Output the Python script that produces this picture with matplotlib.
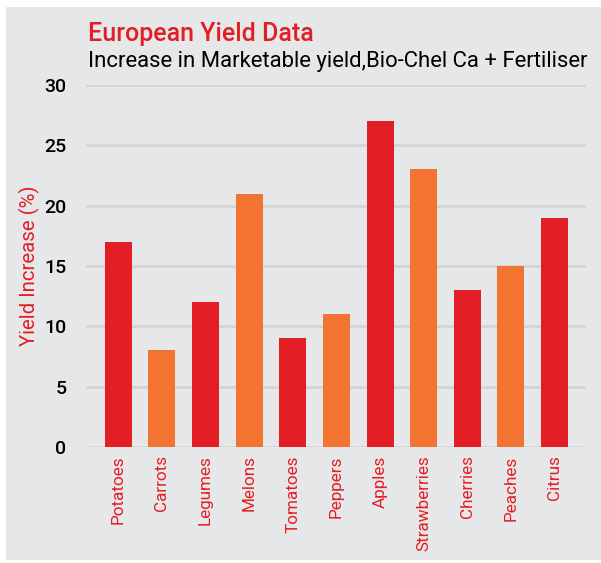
import matplotlib
matplotlib.use('Agg')
import matplotlib.pyplot as plt
from matplotlib.patches import Rectangle

crops = ['Potatoes', 'Carrots', 'Legumes', 'Melons', 'Tomatoes', 'Peppers',
         'Apples', 'Strawberries', 'Cherries', 'Peaches', 'Citrus']
yield_increase = [17, 8, 12, 21, 9, 11, 27, 23, 13, 15, 19]
yticks = [0, 5, 10, 15, 20, 25, 30]

red = '#e31e24'
orange = '#f37331'
panel = '#e6e7e8'
colors = [red if i % 2 == 0 else orange for i in range(len(crops))]

plt.rcParams['font.family'] = ['Roboto', 'DejaVu Sans']

fig = plt.figure(figsize=(6.01, 5.63), dpi=100)
fig.patch.set_facecolor('white')
# grey panel behind everything
fig.patches.append(Rectangle((6 / 601, 3 / 563), 595 / 601, 553 / 563,
                             transform=fig.transFigure, facecolor=panel,
                             edgecolor='none', zorder=-10))

ax = fig.add_axes([86 / 601, 1 - 447 / 563, 500 / 601, 362 / 563])
ax.set_facecolor('none')
x = range(len(crops))
ax.bar(x, yield_increase, width=0.62, color=colors, zorder=3)

ax.set_ylim(0, 30)
ax.set_xlim(-0.74, len(crops) - 1 + 0.72)
ax.set_yticks(yticks)
ax.set_yticklabels([str(t) for t in yticks], fontsize=14, color='black',
                   fontweight='medium')
ax.tick_params(axis='y', length=0, pad=14)
ax.set_xticks(list(x))
ax.set_xticklabels(crops, rotation=90, fontsize=12.3, color=red)
ax.tick_params(axis='x', length=0, pad=6)
for s in ax.spines.values():
    s.set_visible(False)
ax.yaxis.grid(True, color='#d3d4d6', linewidth=2, zorder=0)
ax.set_axisbelow(True)

ax.set_ylabel('Yield Increase (%)', fontsize=14.7, color=red, labelpad=3)

fig.text(88 / 601, 1 - 34 / 563, 'European Yield Data', fontsize=18,
         color=red, fontweight='medium', va='center', ha='left')
fig.text(88 / 601, 1 - 62 / 563,
         'Increase in Marketable yield,Bio-Chel Ca + Fertiliser',
         fontsize=15.9, color='black', va='center', ha='left')

fig.savefig('out.png', dpi=100, facecolor='white')
